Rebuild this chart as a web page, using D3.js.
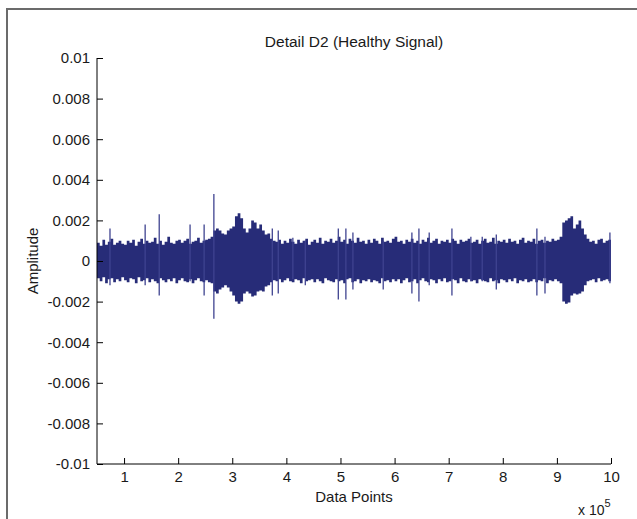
<!DOCTYPE html>
<html>
<head>
<meta charset="utf-8">
<script src="https://cdn.jsdelivr.net/npm/d3@7"></script>
<style>
  html, body { margin: 0; padding: 0; background: #fff; }
  svg { display: block; font-family: "Liberation Sans", Arial, sans-serif; }
</style>
</head>
<body>
<svg id="chart" width="637" height="519"></svg>
<script>
// signal envelope, one max/min pair for every 5000 samples (units of 1e-3)
var binStart = 50000, binStep = 5000;
var envHi = [
  0.9,0.75,1.05,0.8,0.95,1.1,0.8,0.9,1.0,0.85,
  0.8,1.0,0.9,1.05,0.75,0.95,1.1,0.85,1.0,0.9,
  0.95,1.15,0.85,1.0,0.8,0.95,1.2,0.9,0.85,1.0,
  1.05,0.9,1.0,1.1,0.85,0.95,1.0,1.15,0.9,1.0,
  1.05,1.1,1.2,1.5,1.6,1.5,1.35,1.3,1.5,1.6,
  1.7,2.2,2.35,2.1,1.6,1.4,1.6,2.0,1.9,1.6,
  1.8,1.5,1.3,1.35,1.1,1.0,0.95,1.05,0.85,1.0,
  0.9,1.1,0.95,0.85,1.05,0.9,1.0,1.1,0.8,0.95,
  1.05,0.9,1.15,0.85,1.0,0.95,1.1,0.9,1.0,1.2,
  0.95,1.05,0.85,1.1,1.0,0.9,1.15,0.95,1.0,0.85,
  1.05,0.9,1.1,1.0,0.85,1.15,0.95,1.0,0.9,1.1,
  1.2,0.95,1.0,0.85,1.05,0.95,1.1,0.9,1.0,0.85,
  1.05,0.95,1.15,0.9,1.0,1.1,0.85,1.0,0.95,1.05,
  0.9,1.1,1.0,0.85,1.05,0.95,1.0,1.1,0.9,0.95,
  1.05,0.85,1.0,1.1,0.9,0.95,1.15,0.85,1.0,0.95,
  1.05,0.9,1.1,0.95,1.0,0.85,1.05,1.15,0.9,1.0,
  0.95,1.1,0.85,1.0,1.05,0.9,1.0,0.95,1.1,1.0,
  1.05,1.2,1.9,2.0,2.1,2.2,1.6,1.8,2.0,1.6,
  1.3,1.1,0.95,1.0,0.85,1.05,1.1,0.9,1.0,1.05
];
var envLo = [
  -0.85,-1.0,-0.8,-1.1,-0.9,-0.85,-1.05,-0.9,-1.0,-0.8,
  -0.95,-1.05,-0.85,-0.9,-1.1,-0.8,-1.0,-0.95,-0.85,-1.05,
  -0.9,-1.0,-1.1,-0.85,-0.95,-1.05,-0.9,-1.0,-0.85,-1.1,
  -0.95,-0.85,-1.0,-1.05,-0.9,-1.1,-0.95,-0.85,-1.0,-1.05,
  -0.95,-1.05,-1.1,-1.5,-1.6,-1.4,-1.3,-1.2,-1.3,-1.5,
  -1.7,-2.0,-2.1,-2.0,-1.6,-1.5,-1.6,-1.75,-1.7,-1.5,
  -1.45,-1.5,-1.25,-1.2,-1.05,-0.95,-1.0,-0.9,-1.05,-0.95,
  -0.85,-1.0,-1.05,-0.9,-0.95,-1.1,-0.85,-1.0,-0.95,-0.9,
  -1.05,-0.9,-1.0,-1.1,-0.85,-0.95,-1.0,-1.05,-0.9,-1.0,
  -0.95,-1.1,-0.9,-0.85,-1.05,-1.0,-0.9,-1.1,-0.95,-1.0,
  -0.9,-1.05,-0.95,-1.0,-1.1,-0.85,-1.0,-0.95,-1.05,-0.9,
  -1.0,-0.9,-1.1,-0.95,-0.85,-1.05,-1.0,-0.9,-1.1,-0.95,
  -0.85,-1.0,-1.05,-0.9,-0.95,-1.1,-0.9,-1.0,-0.85,-1.05,
  -1.0,-0.9,-0.95,-1.1,-0.85,-1.0,-1.05,-0.9,-1.0,-0.95,
  -1.1,-0.9,-0.95,-1.0,-1.05,-0.85,-1.0,-0.95,-1.1,-0.9,
  -0.95,-1.05,-0.9,-1.0,-0.85,-1.1,-0.95,-1.0,-0.9,-1.05,
  -1.0,-0.9,-1.05,-0.95,-1.0,-0.85,-1.1,-0.95,-1.0,-0.9,
  -1.0,-1.1,-2.0,-2.1,-2.05,-1.7,-1.6,-1.65,-1.6,-1.5,
  -1.2,-1.0,-0.95,-0.9,-1.05,-0.85,-1.0,-0.95,-0.9,-1.0
];
// isolated spikes: sample index, max, min (units of 1e-3)
var spikeX  = [74000,139000,165000,222000,248000,266000,374000,385000,412000,435000,496000,510000,
               523000,579000,632000,645000,664000,706000,741000,762000,788000,863000,878000,998000];
var spikeHi = [1.6,1.8,2.3,1.8,1.8,3.3,1.6,1.5,1.15,1.0,1.6,1.6,
               1.4,1.0,1.4,1.6,1.4,1.6,1.2,1.2,1.3,1.6,1.2,1.4];
var spikeLo = [-1.2,-1.2,-1.7,-1.0,-1.7,-2.85,-1.7,-1.6,-0.9,-1.2,-1.9,-1.9,
               -1.4,-1.4,-1.6,-2.0,-1.2,-1.7,-1.0,-1.0,-1.4,-1.7,-1.6,-1.1];
var yTicks = [-0.01,-0.008,-0.006,-0.004,-0.002,0,0.002,0.004,0.006,0.008,0.01];
var xTicks = [1,2,3,4,5,6,7,8,9,10];  // x 10^5
var ampUnit = 1e-3;

(function(){
var svg = d3.select("#chart");
var mLeft = 97, mRight = 611, mTop = 58, mBottom = 464;
var xs = d3.scaleLinear().domain([50000, 1000000]).range([mLeft, mRight]);
var ys = d3.scaleLinear().domain([-0.01, 0.01]).range([mBottom, mTop]);
var navy = "#272c78";

// figure frame
svg.append("path").attr("d", "M7,519 L7,9 L637,9")
  .attr("fill", "none").attr("stroke", "#6b6b6b").attr("stroke-width", 2);

// signal envelope
var env = envHi.map(function(h, i){ return {x: binStart + i*binStep, hi: h, lo: envLo[i]}; });
env.push({x: binStart + envHi.length*binStep, hi: envHi[envHi.length-1], lo: envLo[envLo.length-1]});
var area = d3.area()
  .curve(d3.curveStepAfter)
  .x(function(d){ return xs(d.x); })
  .y0(function(d){ return ys(d.lo*ampUnit); })
  .y1(function(d){ return ys(d.hi*ampUnit); });
svg.append("path").datum(env).attr("d", area).attr("fill", navy);

svg.selectAll("line.spike").data(spikeX).enter().append("line")
  .attr("class", "spike")
  .attr("x1", function(d){ return xs(d); }).attr("x2", function(d){ return xs(d); })
  .attr("y1", function(d, i){ return ys(spikeHi[i]*ampUnit); })
  .attr("y2", function(d, i){ return ys(spikeLo[i]*ampUnit); })
  .attr("stroke", "#3f4390").attr("stroke-width", 1.3);

// axes
var yAxis = d3.axisLeft(ys).tickValues(yTicks).tickSize(-6).tickPadding(7)
  .tickFormat(function(d){ return d === 0 ? "0" : String(+d.toFixed(3)); });
var gy = svg.append("g").attr("transform", "translate(" + mLeft + ",0)").call(yAxis);

var xAxis = d3.axisBottom(xs).tickValues(xTicks.map(function(d){ return d*1e5; }))
  .tickSize(-6).tickPadding(7)
  .tickFormat(function(d){ return d/1e5; });
var gx = svg.append("g").attr("transform", "translate(0," + mBottom + ")").call(xAxis);

[gx, gy].forEach(function(g){
  g.select(".domain").attr("stroke", "#000").attr("stroke-width", 1);
  g.selectAll(".tick line").attr("stroke", "#000");
  g.selectAll("text").attr("font-size", 15).attr("fill", "#1a1a1a")
    .attr("font-family", "Liberation Sans, Arial, sans-serif");
});
gy.select(".domain").attr("d", "M0," + mTop + "V" + mBottom);
gx.select(".domain").attr("d", "M" + mLeft + ",0H" + mRight);

// labels
svg.append("text").attr("x", (mLeft+mRight)/2).attr("y", 47)
  .attr("text-anchor", "middle").attr("font-size", 15.5).attr("fill", "#1a1a1a")
  .text("Detail D2 (Healthy Signal)");
svg.append("text").attr("x", (mLeft+mRight)/2).attr("y", 502)
  .attr("text-anchor", "middle").attr("font-size", 15).attr("fill", "#1a1a1a")
  .text("Data Points");
svg.append("text").attr("transform", "translate(38," + ys(0) + ") rotate(-90)")
  .attr("text-anchor", "middle").attr("font-size", 15).attr("fill", "#1a1a1a")
  .text("Amplitude");
var sci = svg.append("text").attr("x", 578).attr("y", 515).attr("font-size", 14).attr("fill", "#1a1a1a");
sci.append("tspan").text("x 10");
sci.append("tspan").attr("dy", -8).attr("font-size", 11).text("5");
})();
</script>
</body>
</html>
